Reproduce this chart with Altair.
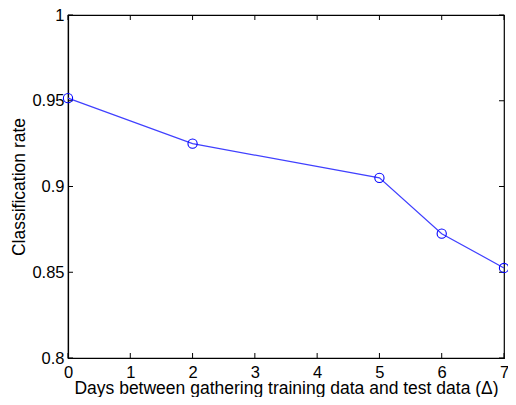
import altair as alt
import pandas as pd

days = [0, 2, 5, 6, 7]
rates = [0.9515, 0.925, 0.905, 0.8725, 0.8525]
x_ticks = [0, 1, 2, 3, 4, 5, 6, 7]
y_ticks = [0.8, 0.85, 0.9, 0.95, 1.0]

W, H = 436, 343
FONT = "Liberation Sans"
LFS = 16.5
TFS = 17.5

df = pd.DataFrame({"days": days, "rate": rates})
xt = pd.DataFrame({"t": x_ticks})
yt = pd.DataFrame({"t": y_ticks})

xs = alt.Scale(domain=[0, 7], nice=False, zero=False)
ys = alt.Scale(domain=[0.8, 1.0], nice=False, zero=False)

line = alt.Chart(df).mark_line(color="#4040ff", strokeWidth=1.2).encode(
    x=alt.X("days:Q", scale=xs,
            axis=alt.Axis(values=x_ticks, tickSize=0, domain=True, domainColor="black",
                          domainWidth=1.2, grid=False, format="d",
                          labelFontSize=LFS, labelFont=FONT, labelColor="black",
                          labelPadding=6, labelFlush=False,
                          title="Days between gathering training data and test data (Δ)",
                          titleFontSize=TFS, titleFont=FONT, titleFontWeight="normal",
                          titleColor="black", titleY=35, titleBaseline="alphabetic")),
    y=alt.Y("rate:Q", scale=ys,
            axis=alt.Axis(values=y_ticks, tickSize=0, domain=True, domainColor="black",
                          domainWidth=1.2, grid=False, format=".2~f",
                          labelFontSize=LFS, labelFont=FONT, labelColor="black",
                          labelPadding=4, labelFlush=False,
                          title="Classification rate",
                          titleFontSize=TFS, titleFont=FONT, titleFontWeight="normal",
                          titleColor="black", titlePadding=3)),
)

pts = alt.Chart(df).mark_point(shape="circle", filled=False, size=85,
                               color="#0000ff", strokeWidth=1.1, opacity=1).encode(
    x=alt.X("days:Q", scale=xs),
    y=alt.Y("rate:Q", scale=ys),
)

TL = 5
bt = alt.Chart(xt).mark_rule(color="black", strokeWidth=1).encode(
    x=alt.X("t:Q", scale=xs), y=alt.value(H), y2=alt.value(H - TL))
tt = alt.Chart(xt).mark_rule(color="black", strokeWidth=1).encode(
    x=alt.X("t:Q", scale=xs), y=alt.value(0), y2=alt.value(TL))
lt = alt.Chart(yt).mark_rule(color="black", strokeWidth=1).encode(
    y=alt.Y("t:Q", scale=ys), x=alt.value(0), x2=alt.value(TL))
rt = alt.Chart(yt).mark_rule(color="black", strokeWidth=1).encode(
    y=alt.Y("t:Q", scale=ys), x=alt.value(W), x2=alt.value(W - TL))

chart = alt.layer(bt, tt, lt, rt, line, pts).properties(
    width=W, height=H,
    autosize=alt.AutoSizeParams(type="none"),
    padding={"left": 60, "top": 7, "right": 4, "bottom": 39},
).configure(background="white").configure_view(stroke="black", strokeWidth=1.2)

chart.save("out.html", embed_options={"renderer": "svg", "actions": False})
